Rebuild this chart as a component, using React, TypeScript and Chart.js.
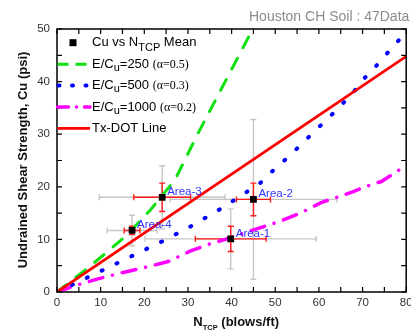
import React, { useEffect, useRef } from 'react';
import { Chart, registerables } from 'chart.js';

Chart.register(...registerables);

const W = 411;
const H = 334;
const SANS = "'Liberation Sans', Arial, sans-serif";
const SERIF = "'Liberation Serif', 'Times New Roman', serif";

// ---- data ----
const xTickValues = [0, 10, 20, 30, 40, 50, 60, 70, 80];
const yTickValues = [0, 10, 20, 30, 40, 50];

const areaNames = ['Area-1', 'Area-2', 'Area-3', 'Area-4'];
const meanN = [39.8, 45.0, 24.1, 17.2];
const meanCu = [10.1, 17.6, 18.0, 11.7];
const redErrN = [8.1, 3.9, 6.5, 1.8];
const redErrCu = [2.4, 3.1, 2.7, 0.8];
const grayErrN = [19.6, 19.1, 14.4, 5.7];
const grayErrCu = [5.7, 15.2, 6.0, 2.9];

const e250N = [0, 7.1, 11.6, 16.1, 21.4, 27.0, 32.4, 44.85];
const e250Cu = [0, 4.6, 7.7, 10.9, 15.6, 21.3, 30.3, 50];

const e500N = [0, 8.6, 17.8, 24.4, 30.6, 36.9, 40.1, 46.4, 49.5, 52.5, 55.9, 58.9, 62.0, 65.1, 68.0, 70.7, 73.7, 76.5, 79.3, 80];
const e500Cu = [0, 3.4, 7.1, 9.75, 12.45, 15.5, 17.2, 20.6, 23.1, 25.3, 28.0, 30.5, 32.9, 35.5, 38.1, 40.9, 43.5, 46.2, 48.8, 49.4];

const e1000N = [0, 4.1, 9.4, 14.6, 20.6, 25.5, 30.6, 34.5, 39.7, 45.0, 50.6, 55.5, 60.5, 64.5, 67.9, 70.9, 74.3, 77.3, 80];
const e1000Cu = [0, 1.2, 2.5, 3.6, 4.75, 5.8, 7.8, 9.0, 10.3, 11.8, 13.3, 14.9, 17.0, 18.1, 19.1, 20.1, 21.0, 22.6, 24.1];

const txdotN = [0, 80];
const txdotCu = [0, 44.8];

const legendRatios = ['250', '500', '1000'];
const legendAlphas = ['0.5', '0.3', '0.2'];
const chartTitle = 'Houston CH Soil : 47Data';
const yTitle = 'Undrained Shear Strength, Cu (psi)';

const pts = (xs: number[], ys: number[]) => xs.map((x, i) => ({ x, y: ys[i] }));

// ---- styles ----
const GREEN = '#11e011';
const BLUE = '#0000ff';
const MAGENTA = '#ff00ff';
const RED = '#ff0000';
const greenDash = [12, 12];
const blueDash = [1, 15.5];
const magDash = [14, 10, 0.01, 10];

type Part = { t: string; font: string; dy: number };
function drawParts(ctx: CanvasRenderingContext2D, x: number, y: number, parts: Part[], color: string) {
  ctx.fillStyle = color;
  ctx.textBaseline = 'middle';
  ctx.textAlign = 'left';
  let cx = x;
  for (const p of parts) {
    ctx.font = p.font;
    ctx.fillText(p.t, cx, y + p.dy);
    cx += ctx.measureText(p.t).width;
  }
}

const errorBarPlugin = {
  id: 'errorBars',
  beforeDatasetsDraw(chart: any) {
    const { ctx, scales } = chart;
    const xs = scales.x;
    const ys = scales.y;
    const area = chart.chartArea;
    ctx.save();
    ctx.beginPath();
    ctx.rect(area.left, area.top, area.right - area.left, area.bottom - area.top);
    ctx.clip();
    const draw = (eN: number[], eC: number[], color: string, cap: number, lw: number) => {
      ctx.strokeStyle = color;
      ctx.lineWidth = lw;
      ctx.setLineDash([]);
      for (let i = 0; i < meanN.length; i++) {
        const cx = xs.getPixelForValue(meanN[i]);
        const cy = ys.getPixelForValue(meanCu[i]);
        const x1 = xs.getPixelForValue(meanN[i] - eN[i]);
        const x2 = xs.getPixelForValue(meanN[i] + eN[i]);
        const y1 = ys.getPixelForValue(meanCu[i] - eC[i]);
        const y2 = ys.getPixelForValue(meanCu[i] + eC[i]);
        ctx.beginPath();
        ctx.moveTo(x1, cy); ctx.lineTo(x2, cy);
        ctx.moveTo(x1, cy - cap); ctx.lineTo(x1, cy + cap);
        ctx.moveTo(x2, cy - cap); ctx.lineTo(x2, cy + cap);
        ctx.moveTo(cx, y1); ctx.lineTo(cx, y2);
        ctx.moveTo(cx - cap, y1); ctx.lineTo(cx + cap, y1);
        ctx.moveTo(cx - cap, y2); ctx.lineTo(cx + cap, y2);
        ctx.stroke();
      }
    };
    draw(grayErrN, grayErrCu, '#c6c6c6', 3, 1.4);
    draw(redErrN, redErrCu, '#ff1a1a', 3, 1.4);
    ctx.restore();
  },
};

const overlayPlugin = {
  id: 'overlay',
  afterDatasetsDraw(chart: any) {
    const { ctx, scales } = chart;
    const xs = scales.x;
    const ys = scales.y;
    const a = chart.chartArea;
    ctx.save();
    // area labels
    ctx.font = `11.5px ${SANS}`;
    ctx.fillStyle = '#3333ff';
    ctx.textBaseline = 'middle';
    ctx.textAlign = 'left';
    for (let i = 0; i < areaNames.length; i++) {
      const cx = xs.getPixelForValue(meanN[i]);
      const cy = ys.getPixelForValue(meanCu[i]);
      ctx.fillText(areaNames[i], cx + 5, cy - 5.5);
    }
    // frame
    ctx.strokeStyle = '#000';
    ctx.lineWidth = 1.5;
    ctx.setLineDash([]);
    ctx.strokeRect(a.left, a.top, a.right - a.left, a.bottom - a.top);
    // ticks (major + minor), inside
    ctx.lineWidth = 1.2;
    ctx.beginPath();
    for (let k = 0; k < xTickValues.length; k++) {
      const vals = [xTickValues[k]];
      if (k < xTickValues.length - 1) vals.push((xTickValues[k] + xTickValues[k + 1]) / 2);
      for (const v of vals) {
        const px = xs.getPixelForValue(v);
        ctx.moveTo(px, a.bottom); ctx.lineTo(px, a.bottom - 5);
        ctx.moveTo(px, a.top); ctx.lineTo(px, a.top + 5);
      }
    }
    for (let k = 0; k < yTickValues.length; k++) {
      const vals = [yTickValues[k]];
      if (k < yTickValues.length - 1) vals.push((yTickValues[k] + yTickValues[k + 1]) / 2);
      for (const v of vals) {
        const py = ys.getPixelForValue(v);
        ctx.moveTo(a.left, py); ctx.lineTo(a.left + 5, py);
        ctx.moveTo(a.right, py); ctx.lineTo(a.right - 5, py);
      }
    }
    ctx.stroke();
    ctx.restore();
  },
  afterDraw(chart: any) {
    const { ctx } = chart;
    ctx.save();
    // title
    ctx.font = `14px ${SANS}`;
    ctx.fillStyle = '#8c8c8c';
    ctx.textBaseline = 'middle';
    ctx.textAlign = 'left';
    ctx.fillText(chartTitle, 249, 17.5);

    // y title
    ctx.save();
    ctx.translate(23, 160);
    ctx.rotate(-Math.PI / 2);
    ctx.font = `bold 13px ${SANS}`;
    ctx.fillStyle = '#111';
    ctx.textAlign = 'center';
    ctx.textBaseline = 'middle';
    ctx.fillText(yTitle, 0, 0);
    ctx.restore();

    // x title
    drawParts(ctx, 193.3, 322.5, [
      { t: 'N', font: `bold 13px ${SANS}`, dy: 0 },
      { t: 'TCP', font: `bold 7.5px ${SANS}`, dy: 5 },
      { t: ' (blows/ft)', font: `bold 13px ${SANS}`, dy: 0 },
    ], '#111');

    // legend
    const rows = [42.7, 64.2, 85.6, 107.0, 128.4];
    const sx0 = 57.5;
    const sx1 = 90;
    const tx = 92;
    ctx.fillStyle = '#000';
    ctx.fillRect(73 - 3.5, rows[0] - 3.5, 7, 7);
    drawParts(ctx, tx, rows[0], [
      { t: 'Cu vs N', font: `13px ${SANS}`, dy: 0 },
      { t: 'TCP', font: `11px ${SANS}`, dy: 5 },
      { t: ' Mean', font: `13px ${SANS}`, dy: 0 },
    ], '#000');
    const samples = [
      { color: GREEN, dash: [11, 7], w: 3, cap: 'butt' },
      { color: BLUE, dash: [1, 12.5], w: 4, cap: 'round' },
      { color: MAGENTA, dash: [11, 8, 0.01, 8], w: 3.5, cap: 'round' },
    ];
    for (let i = 0; i < 3; i++) {
      const y = rows[i + 1];
      const s = samples[i];
      ctx.strokeStyle = s.color;
      ctx.lineWidth = s.w;
      ctx.lineCap = s.cap as CanvasLineCap;
      ctx.setLineDash(s.dash);
      ctx.beginPath();
      ctx.moveTo(sx0 + (i === 1 ? 1 : 0), y);
      ctx.lineTo(sx1, y);
      ctx.stroke();
      ctx.setLineDash([]);
      drawParts(ctx, tx, y, [
        { t: 'E/C', font: `13px ${SANS}`, dy: 0 },
        { t: 'u', font: `11px ${SANS}`, dy: 3.5 },
        { t: '=' + legendRatios[i] + ' ', font: `13px ${SANS}`, dy: 0 },
        { t: '(\u03b1=' + legendAlphas[i] + ')', font: `12px ${SERIF}`, dy: 0.5 },
      ], '#000');
    }
    ctx.strokeStyle = RED;
    ctx.lineWidth = 2.7;
    ctx.lineCap = 'butt';
    ctx.beginPath();
    ctx.moveTo(sx0, rows[4]);
    ctx.lineTo(sx1, rows[4]);
    ctx.stroke();
    drawParts(ctx, tx, rows[4], [{ t: 'Tx-DOT Line', font: `13px ${SANS}`, dy: 0 }], '#000');
    ctx.restore();
  },
};

export default function App() {
  const ref = useRef<HTMLCanvasElement>(null);
  useEffect(() => {
    const prev = document.body.style.margin;
    document.body.style.margin = '0';
    const chart = new Chart(ref.current as HTMLCanvasElement, {
      type: 'scatter',
      data: {
        datasets: [
          {
            label: 'Cu vs NTCP Mean',
            data: pts(meanN, meanCu),
            pointStyle: 'rect',
            pointRadius: 4.8,
            backgroundColor: '#000',
            borderColor: '#000',
            borderWidth: 0,
            showLine: false,
          },
          {
            label: 'Tx-DOT Line',
            data: pts(txdotN, txdotCu),
            showLine: true,
            pointRadius: 0,
            borderColor: RED,
            borderWidth: 2.7,
            tension: 0,
          },
          {
            label: 'E/Cu=250',
            data: pts(e250N, e250Cu),
            showLine: true,
            pointRadius: 0,
            borderColor: GREEN,
            borderWidth: 3,
            borderDash: greenDash,
            borderCapStyle: 'round',
            tension: 0,
          },
          {
            label: 'E/Cu=500',
            data: pts(e500N, e500Cu),
            showLine: true,
            pointRadius: 0,
            borderColor: BLUE,
            borderWidth: 4,
            borderDash: blueDash,
            borderCapStyle: 'round',
            tension: 0,
          },
          {
            label: 'E/Cu=1000',
            data: pts(e1000N, e1000Cu),
            showLine: true,
            pointRadius: 0,
            borderColor: MAGENTA,
            borderWidth: 3.5,
            borderDash: magDash,
            borderCapStyle: 'round',
            tension: 0,
          },
        ] as any,
      },
      options: {
        responsive: false,
        devicePixelRatio: 1,
        animation: false,
        events: [],
        layout: { padding: { left: 0, top: 29, right: -0.5, bottom: 0 } },
        plugins: {
          legend: { display: false },
          tooltip: { enabled: false },
          title: { display: false },
        },
        scales: {
          x: {
            type: 'linear',
            min: 0,
            max: 80,
            afterBuildTicks: (s: any) => {
              s.ticks = xTickValues.map((v) => ({ value: v }));
            },
            afterFit: (s: any) => {
              s.height = 42;
              s.paddingLeft = 0;
              s.paddingRight = 0;
            },
            grid: { display: false, drawTicks: false },
            border: { display: false },
            ticks: {
              font: { family: SANS, size: 11.5 },
              color: '#333',
              padding: 4,
              maxRotation: 0,
              autoSkip: false,
            },
          },
          y: {
            type: 'linear',
            min: 0,
            max: 50,
            afterBuildTicks: (s: any) => {
              s.ticks = yTickValues.map((v) => ({ value: v }));
            },
            afterFit: (s: any) => {
              s.width = 57;
              s.paddingTop = 0;
              s.paddingBottom = 0;
            },
            grid: { display: false, drawTicks: false },
            border: { display: false },
            ticks: {
              font: { family: SANS, size: 11.5 },
              color: '#333',
              padding: 7,
              autoSkip: false,
            },
          },
        },
      } as any,
      plugins: [errorBarPlugin, overlayPlugin],
    });
    return () => {
      chart.destroy();
      document.body.style.margin = prev;
    };
  }, []);
  return (
    <div style={{ width: W, height: H, background: '#fff' }}>
      <canvas ref={ref} width={W} height={H} style={{ display: 'block', width: W, height: H }} />
    </div>
  );
}
